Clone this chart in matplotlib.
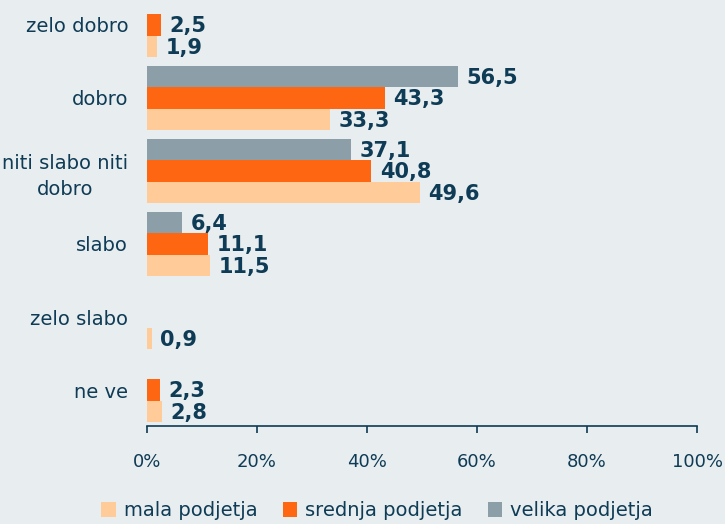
import numpy as np
import matplotlib
matplotlib.use("Agg")
import matplotlib.pyplot as plt
from matplotlib.patches import Patch

categories = ["zelo dobro", "dobro", "niti slabo niti\ndobro", "slabo", "zelo slabo", "ne ve"]
series_names = ["mala podjetja", "srednja podjetja", "velika podjetja"]
mala = [1.9, 33.3, 49.6, 11.5, 0.9, 2.8]
srednja = [2.5, 43.3, 40.8, 11.1, 0.0, 2.3]
velika = [0.0, 56.5, 37.1, 6.4, 0.0, 0.0]
x_ticks = [0, 20, 40, 60, 80, 100]

bg = "#E8EDEF"
navy = "#0E3B55"
colors = {"mala podjetja": "#FFCC99", "srednja podjetja": "#FF6611", "velika podjetja": "#8C9FA9"}

fig = plt.figure(figsize=(7.25, 5.24), dpi=100, facecolor=bg)
ax = fig.add_axes([147 / 725, (524 - 425.5) / 524, 550 / 725, 425.5 / 524])
ax.set_facecolor(bg)

y = np.arange(len(categories))
h = 0.292
offsets = {"velika podjetja": -h, "srednja podjetja": 0.0, "mala podjetja": h}
data = {"mala podjetja": mala, "srednja podjetja": srednja, "velika podjetja": velika}

for name in ["velika podjetja", "srednja podjetja", "mala podjetja"]:
    vals = data[name]
    ax.barh(y + offsets[name], vals, height=h, color=colors[name], linewidth=0)
    for yi, v in zip(y, vals):
        if v > 0:
            ax.text(v + 1.5, yi + offsets[name] + 0.02, f"{v:.1f}".replace(".", ","),
                    va="center", ha="left", fontsize=15, fontweight="bold", color=navy)

ax.set_xlim(0, 100)
ax.set_ylim(5.486, -0.342)
ax.set_xticks(x_ticks)
ax.set_xticklabels([f"{t}%" for t in x_ticks], fontsize=13, color=navy)
ax.tick_params(axis="x", direction="out", length=5, width=1.2, color=navy, pad=15)
ax.set_yticks(y)
ax.set_yticklabels(categories, fontsize=14, color=navy, ha="right",
                   multialignment="center", linespacing=1.45)
ax.tick_params(axis="y", length=0, pad=13.5)
for s in ["top", "right", "left"]:
    ax.spines[s].set_visible(False)
ax.spines["bottom"].set_color(navy)
ax.spines["bottom"].set_linewidth(1.2)

handles = [Patch(facecolor=colors[n], edgecolor="none") for n in series_names]
leg = fig.legend(handles, series_names, loc="center", bbox_to_anchor=(0.52, 0.025), ncol=3,
                 frameon=False, fontsize=14, handlelength=0.75, handleheight=0.75,
                 handletextpad=0.4, columnspacing=1.3)
for t in leg.get_texts():
    t.set_color(navy)

fig.savefig("out.png", dpi=100, facecolor=bg)
